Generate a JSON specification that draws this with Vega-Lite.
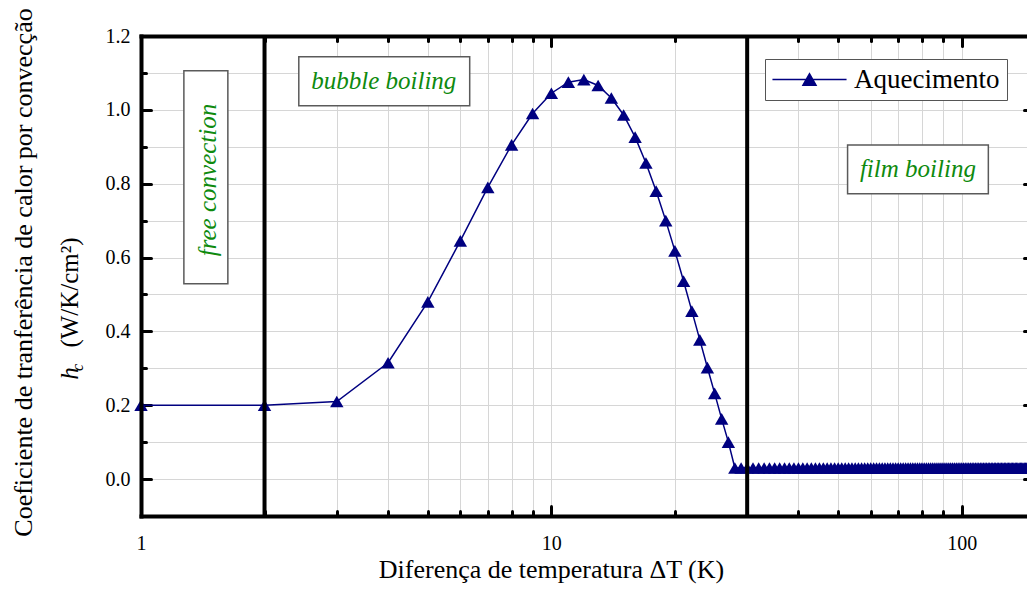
{
  "$schema": "https://vega.github.io/schema/vega-lite/v6.json",
  "width": 893,
  "height": 480,
  "autosize": {"type": "none"},
  "padding": {"left": 141, "top": 36, "right": -7, "bottom": 74},
  "background": "white",
  "config": {
    "view": {"stroke": null},
    "font": "Liberation Serif",
    "style": {
      "guide-label": {"font": "Liberation Serif", "fontSize": 20, "fill": "black"},
      "guide-title": {"font": "Liberation Serif", "fontSize": 25, "fill": "black", "fontWeight": "normal"}
    }
  },
  "datasets": {
    "curve": [
      {"dT": 1, "h": 0.2}, {"dT": 2, "h": 0.2}, {"dT": 3, "h": 0.21}, {"dT": 4, "h": 0.315},
      {"dT": 5, "h": 0.48}, {"dT": 6, "h": 0.645}, {"dT": 7, "h": 0.79}, {"dT": 8, "h": 0.905},
      {"dT": 9, "h": 0.99}, {"dT": 10, "h": 1.045}, {"dT": 11, "h": 1.075}, {"dT": 12, "h": 1.082},
      {"dT": 13, "h": 1.066}, {"dT": 14, "h": 1.032}, {"dT": 15, "h": 0.986}, {"dT": 16, "h": 0.926},
      {"dT": 17, "h": 0.856}, {"dT": 18, "h": 0.78}, {"dT": 19, "h": 0.7}, {"dT": 20, "h": 0.618},
      {"dT": 21, "h": 0.536}, {"dT": 22, "h": 0.455}, {"dT": 23, "h": 0.377}, {"dT": 24, "h": 0.302},
      {"dT": 25, "h": 0.232}, {"dT": 26, "h": 0.163}, {"dT": 27, "h": 0.1}, {"dT": 28, "h": 0.03},
      {"dT": 29, "h": 0.03}, {"dT": 30, "h": 0.03}, {"dT": 31, "h": 0.03}, {"dT": 32, "h": 0.03},
      {"dT": 33, "h": 0.03}, {"dT": 34, "h": 0.03}, {"dT": 35, "h": 0.03}, {"dT": 36, "h": 0.03},
      {"dT": 37, "h": 0.03}, {"dT": 38, "h": 0.03}, {"dT": 39, "h": 0.03}, {"dT": 40, "h": 0.03},
      {"dT": 41, "h": 0.03}, {"dT": 42, "h": 0.03}, {"dT": 43, "h": 0.03}, {"dT": 44, "h": 0.03},
      {"dT": 45, "h": 0.03}, {"dT": 46, "h": 0.03}, {"dT": 47, "h": 0.03}, {"dT": 48, "h": 0.03},
      {"dT": 49, "h": 0.03}, {"dT": 50, "h": 0.03}, {"dT": 51, "h": 0.03}, {"dT": 52, "h": 0.03},
      {"dT": 53, "h": 0.03}, {"dT": 54, "h": 0.03}, {"dT": 55, "h": 0.03}, {"dT": 56, "h": 0.03},
      {"dT": 57, "h": 0.03}, {"dT": 58, "h": 0.03}, {"dT": 59, "h": 0.03}, {"dT": 60, "h": 0.03},
      {"dT": 61, "h": 0.03}, {"dT": 62, "h": 0.03}, {"dT": 63, "h": 0.03}, {"dT": 64, "h": 0.03},
      {"dT": 65, "h": 0.03}, {"dT": 66, "h": 0.03}, {"dT": 67, "h": 0.03}, {"dT": 68, "h": 0.03},
      {"dT": 69, "h": 0.03}, {"dT": 70, "h": 0.03}, {"dT": 71, "h": 0.03}, {"dT": 72, "h": 0.03},
      {"dT": 73, "h": 0.03}, {"dT": 74, "h": 0.03}, {"dT": 75, "h": 0.03}, {"dT": 76, "h": 0.03},
      {"dT": 77, "h": 0.03}, {"dT": 78, "h": 0.03}, {"dT": 79, "h": 0.03}, {"dT": 80, "h": 0.03},
      {"dT": 81, "h": 0.03}, {"dT": 82, "h": 0.03}, {"dT": 83, "h": 0.03}, {"dT": 84, "h": 0.03},
      {"dT": 85, "h": 0.03}, {"dT": 86, "h": 0.03}, {"dT": 87, "h": 0.03}, {"dT": 88, "h": 0.03},
      {"dT": 89, "h": 0.03}, {"dT": 90, "h": 0.03}, {"dT": 91, "h": 0.03}, {"dT": 92, "h": 0.03},
      {"dT": 93, "h": 0.03}, {"dT": 94, "h": 0.03}, {"dT": 95, "h": 0.03}, {"dT": 96, "h": 0.03},
      {"dT": 97, "h": 0.03}, {"dT": 98, "h": 0.03}, {"dT": 99, "h": 0.03}, {"dT": 100, "h": 0.03},
      {"dT": 101, "h": 0.03}, {"dT": 102, "h": 0.03}, {"dT": 103, "h": 0.03}, {"dT": 104, "h": 0.03},
      {"dT": 105, "h": 0.03}, {"dT": 106, "h": 0.03}, {"dT": 107, "h": 0.03}, {"dT": 108, "h": 0.03},
      {"dT": 109, "h": 0.03}, {"dT": 110, "h": 0.03}, {"dT": 111, "h": 0.03}, {"dT": 112, "h": 0.03},
      {"dT": 113, "h": 0.03}, {"dT": 114, "h": 0.03}, {"dT": 115, "h": 0.03}, {"dT": 116, "h": 0.03},
      {"dT": 117, "h": 0.03}, {"dT": 118, "h": 0.03}, {"dT": 119, "h": 0.03}, {"dT": 120, "h": 0.03},
      {"dT": 121, "h": 0.03}, {"dT": 122, "h": 0.03}, {"dT": 123, "h": 0.03}, {"dT": 124, "h": 0.03},
      {"dT": 125, "h": 0.03}, {"dT": 126, "h": 0.03}, {"dT": 127, "h": 0.03}, {"dT": 128, "h": 0.03},
      {"dT": 129, "h": 0.03}, {"dT": 130, "h": 0.03}, {"dT": 131, "h": 0.03}, {"dT": 132, "h": 0.03},
      {"dT": 133, "h": 0.03}, {"dT": 134, "h": 0.03}, {"dT": 135, "h": 0.03}, {"dT": 136, "h": 0.03},
      {"dT": 137, "h": 0.03}, {"dT": 138, "h": 0.03}, {"dT": 139, "h": 0.03}, {"dT": 140, "h": 0.03},
      {"dT": 141, "h": 0.03}, {"dT": 142, "h": 0.03}, {"dT": 143, "h": 0.03}, {"dT": 144, "h": 0.03},
      {"dT": 145, "h": 0.03}, {"dT": 146, "h": 0.03}, {"dT": 147, "h": 0.03}, {"dT": 148, "h": 0.03},
      {"dT": 149, "h": 0.03}, {"dT": 150, "h": 0.03}
    ],
    "boxes": [
      {"name": "free convection", "x1": 1.272, "x2": 1.628, "y1": 1.106, "y2": 0.529, "xc": 1.455, "yc": 0.81},
      {"name": "bubble boiling", "x1": 2.424, "x2": 6.324, "y1": 1.1435, "y2": 1.011, "xc": 3.905, "yc": 1.077},
      {"name": "film boiling", "x1": 52.7, "x2": 116.1, "y1": 0.905, "y2": 0.7725, "xc": 78.2, "yc": 0.839}
    ],
    "vlines": [{"x": 2}, {"x": 30}]
  },
  "resolve": {"axis": {"x": "independent", "y": "independent"}},
  "layer": [
    {
      "data": {"name": "boxes"},
      "mark": {"type": "rect", "fill": "#a0a0a0", "xOffset": 1.5, "yOffset": 1.5},
      "encoding": {
        "x": {"field": "x1", "type": "quantitative", "scale": {"type": "log", "domain": [1, 150], "nice": false}, "axis": null},
        "x2": {"field": "x2"},
        "y": {"field": "y1", "type": "quantitative", "scale": {"domain": [-0.1, 1.2], "nice": false, "zero": false}, "axis": null},
        "y2": {"field": "y2"}
      }
    },
    {
      "data": {"name": "boxes"},
      "mark": {"type": "rect", "fill": "white", "stroke": "#5a5a5a", "strokeWidth": 1.5},
      "encoding": {
        "x": {
          "field": "x1", "type": "quantitative",
          "scale": {"type": "log", "domain": [1, 150], "nice": false},
          "axis": {"orient": "bottom", "values": [2, 3, 4, 5, 6, 7, 8, 9, 10, 20, 30, 40, 50, 60, 70, 80, 90, 100],
                   "grid": true, "gridColor": "#d6d6d6", "gridWidth": 1, "ticks": false, "labels": false, "domain": false, "title": null}
        },
        "x2": {"field": "x2"},
        "y": {
          "field": "y1", "type": "quantitative",
          "scale": {"domain": [-0.1, 1.2], "nice": false, "zero": false},
          "axis": {"orient": "left", "values": [0, 0.1, 0.2, 0.3, 0.4, 0.5, 0.6, 0.7, 0.8, 0.9, 1, 1.1],
                   "grid": true, "gridColor": "#d6d6d6", "gridWidth": 1, "ticks": false, "labels": false, "domain": false,
                   "title": "(W/K/cm²)", "titleX": -64, "titleY": 256, "titleAngle": 270,
                   "titleAlign": "center", "titleBaseline": "alphabetic",
                   "titleFont": "Liberation Serif", "titleFontSize": 25, "titleFontWeight": "normal", "titleColor": "black"}
        },
        "y2": {"field": "y2"}
      }
    },
    {
      "data": {"name": "boxes"},
      "transform": [{"filter": "datum.name != 'free convection'"}],
      "mark": {"type": "text", "font": "Liberation Serif", "fontStyle": "italic", "fontSize": 25,
               "color": "#0e8a0e", "align": "center", "baseline": "middle"},
      "encoding": {
        "x": {
          "field": "xc", "type": "quantitative",
          "scale": {"type": "log", "domain": [1, 150], "nice": false},
          "axis": {"orient": "bottom", "values": [1, 10, 100], "format": "d", "grid": false, "ticks": false,
                   "domain": true, "domainWidth": 4, "domainCap": "square", "domainColor": "black", "zindex": 1,
                   "labelFont": "Liberation Serif", "labelFontSize": 20, "labelColor": "black",
                   "labelFlush": false, "labelOverlap": false,
                   "labelBaseline": "alphabetic", "labelPadding": 33,
                   "title": "Diferença de temperatura ΔT (K)", "titleX": 410, "titleY": 61,
                   "titleAlign": "center", "titleBaseline": "alphabetic", "titleAngle": 0,
                   "titleFont": "Liberation Serif", "titleFontSize": 26, "titleFontWeight": "normal", "titleColor": "black"}
        },
        "y": {
          "field": "yc", "type": "quantitative",
          "scale": {"domain": [-0.1, 1.2], "nice": false, "zero": false},
          "axis": {"orient": "left", "values": [0, 0.2, 0.4, 0.6, 0.8, 1, 1.2], "format": ".1f",
                   "grid": false, "ticks": false, "domain": true, "domainWidth": 4, "domainCap": "square",
                   "domainColor": "black", "zindex": 1,
                   "labelFont": "Liberation Serif", "labelFontSize": 20, "labelColor": "black",
                   "labelFlush": false, "labelOverlap": false, "labelPadding": 11,
                   "title": "Coeficiente de tranferência de calor por convecção",
                   "titleX": -110, "titleY": 236, "titleAngle": 270,
                   "titleAlign": "center", "titleBaseline": "alphabetic",
                   "titleFont": "Liberation Serif", "titleFontSize": 26, "titleFontWeight": "normal", "titleColor": "black"}
        },
        "text": {"field": "name"}
      }
    },
    {
      "data": {"name": "boxes"},
      "transform": [{"filter": "datum.name == 'free convection'"}],
      "mark": {"type": "text", "font": "Liberation Serif", "fontStyle": "italic", "fontSize": 25, "angle": 270,
               "color": "#0e8a0e", "align": "center", "baseline": "middle"},
      "encoding": {
        "x": {
          "field": "xc", "type": "quantitative",
          "scale": {"type": "log", "domain": [1, 150], "nice": false},
          "axis": {"orient": "bottom", "values": [10, 100], "grid": false, "ticks": true, "tickSize": -10,
                   "tickWidth": 3, "tickCap": "round", "tickColor": "black",
                   "labels": false, "domain": false, "title": null}
        },
        "y": {
          "field": "yc", "type": "quantitative",
          "scale": {"domain": [-0.1, 1.2], "nice": false, "zero": false},
          "axis": {"orient": "left", "values": [0, 0.2, 0.4, 0.6, 0.8, 1], "grid": false, "ticks": true, "tickSize": -10,
                   "tickWidth": 3, "tickCap": "round", "tickColor": "black",
                   "labels": false, "domain": false,
                   "title": "h", "titleFontStyle": "italic", "titleX": -64, "titleY": 337, "titleAngle": 270,
                   "titleAlign": "center", "titleBaseline": "alphabetic",
                   "titleFont": "Liberation Serif", "titleFontSize": 25, "titleFontWeight": "normal", "titleColor": "black"}
        },
        "text": {"field": "name"}
      }
    },
    {
      "data": {"name": "curve"},
      "mark": {"type": "line", "color": "#000080", "strokeWidth": 1.5},
      "encoding": {
        "x": {
          "field": "dT", "type": "quantitative",
          "scale": {"type": "log", "domain": [1, 150], "nice": false},
          "axis": {"orient": "top", "values": [1, 10, 100], "grid": false, "ticks": true, "tickSize": -10,
                   "tickWidth": 3, "tickCap": "round", "tickColor": "black",
                   "labels": false, "domain": true, "domainWidth": 4, "domainCap": "square", "domainColor": "black",
                   "zindex": 1, "title": null}
        },
        "y": {
          "field": "h", "type": "quantitative",
          "scale": {"domain": [-0.1, 1.2], "nice": false, "zero": false},
          "axis": {"orient": "left", "values": [0.1, 0.3, 0.5, 0.7, 0.9, 1.1], "grid": false, "ticks": true, "tickSize": -5,
                   "tickWidth": 3, "tickCap": "round", "tickColor": "black",
                   "labels": false, "domain": false,
                   "title": "c", "titleFontStyle": "italic", "titleX": -59, "titleY": 331, "titleAngle": 270,
                   "titleAlign": "center", "titleBaseline": "alphabetic",
                   "titleFont": "Liberation Serif", "titleFontSize": 16, "titleFontWeight": "normal", "titleColor": "black"}
        }
      }
    },
    {
      "data": {"name": "curve"},
      "mark": {"type": "point", "shape": "triangle-up", "filled": true, "size": 180, "opacity": 1},
      "encoding": {
        "x": {
          "field": "dT", "type": "quantitative",
          "scale": {"type": "log", "domain": [1, 150], "nice": false},
          "axis": {"orient": "top", "values": [2, 3, 4, 5, 6, 7, 8, 9, 20, 30, 40, 50, 60, 70, 80, 90], "grid": false,
                   "ticks": true, "tickSize": -5, "tickWidth": 3, "tickCap": "round", "tickColor": "black",
                   "labels": false, "domain": false, "title": null}
        },
        "y": {
          "field": "h", "type": "quantitative",
          "scale": {"domain": [-0.1, 1.2], "nice": false, "zero": false},
          "axis": {"orient": "right", "values": [0, 0.2, 0.4, 0.6, 0.8, 1], "grid": false, "ticks": true, "tickSize": -10,
                   "tickWidth": 3, "tickCap": "round", "tickColor": "black",
                   "labels": false, "domain": false, "title": null}
        },
        "color": {
          "datum": "Aquecimento",
          "scale": {"range": ["#000080"]},
          "legend": {
            "orient": "none", "legendX": 624, "legendY": 23, "title": null,
            "symbolType": "M-5.7,0H5.7M-1,0.866L0,-0.866L1,0.866Z",
            "symbolSize": 169, "symbolOffset": 24, "labelOffset": 31,
            "symbolStrokeColor": "#000080", "symbolStrokeWidth": 1.5, "symbolFillColor": "#000080",
            "labelFont": "Liberation Serif", "labelFontSize": 27, "labelColor": "black",
            "padding": 7, "strokeColor": "#555555", "fillColor": "white",
            "encode": {"symbols": {"update": {"stroke": {"value": "#000080"}, "strokeWidth": {"value": 1.5},
                                              "opacity": {"value": 1}, "size": {"value": 169}}}}
          }
        }
      }
    },
    {
      "data": {"name": "vlines"},
      "mark": {"type": "rule", "color": "black", "strokeWidth": 4},
      "encoding": {
        "x": {
          "field": "x", "type": "quantitative",
          "scale": {"type": "log", "domain": [1, 150], "nice": false},
          "axis": {"orient": "bottom", "values": [2, 3, 4, 5, 6, 7, 8, 9, 20, 30, 40, 50, 60, 70, 80, 90], "grid": false,
                   "ticks": true, "tickSize": -5, "tickWidth": 3, "tickCap": "round", "tickColor": "black",
                   "labels": false, "domain": false, "title": null}
        }
      }
    }
  ]
}
